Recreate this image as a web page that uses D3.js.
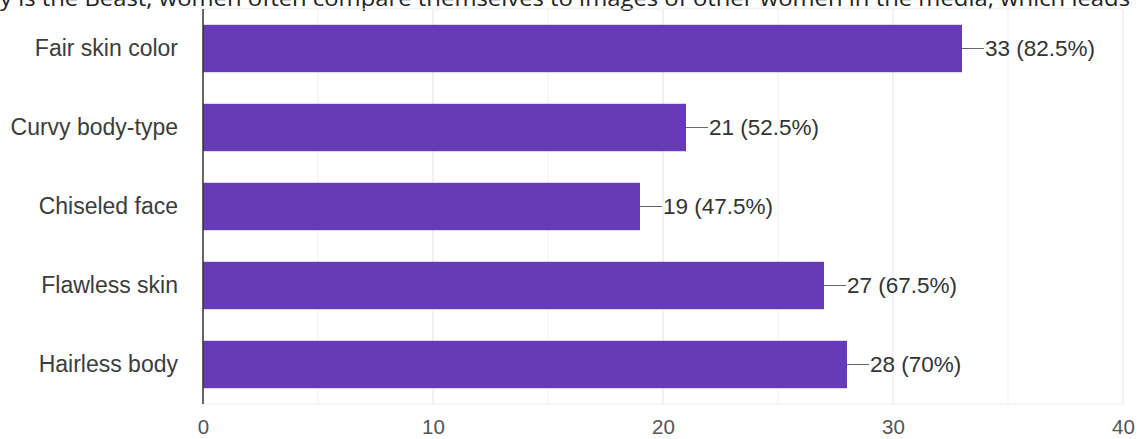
<!DOCTYPE html>
<html>
<head>
<meta charset="utf-8">
<script src="https://cdn.jsdelivr.net/npm/d3@7"></script>
<style>
  body { margin: 0; background: #fff; }
  svg { display: block; }
</style>
</head>
<body>
<div id="container"></div>
<script>
/* DATA */
const categories = ["Fair skin color", "Curvy body-type", "Chiseled face", "Flawless skin", "Hairless body"];
const counts = [33, 21, 19, 27, 28];
const percents = ["82.5%", "52.5%", "47.5%", "67.5%", "70%"];
const xTicks = [0, 10, 20, 30, 40];
const headerText = "y is the Beast, women often compare themselves to images of other women in the media, which leads";

/* CONSTANTS */
const width = 1143, height = 439,
      margin = { top: 9, bottom: 35, left: 203, right: 20 };
const innerW = 920, innerH = height - margin.top - margin.bottom;

const svg = d3.select("#container")
  .append("svg")
  .attr("width", width)
  .attr("height", height);

// cut-off question text at the very top of the screenshot
svg.append("text")
  .attr("x", 0)
  .attr("y", 6)
  .attr("font-family", "Open Sans, Noto Sans, sans-serif")
  .attr("font-size", 22)
  .attr("fill", "#222")
  .attr("textLength", 1130)
  .attr("lengthAdjust", "spacingAndGlyphs")
  .text(headerText);

const g = svg.append("g")
  .attr("transform", `translate(${margin.left}, ${margin.top})`);

// scales
const xScale = d3.scaleLinear()
  .domain([0, 40])
  .range([0, innerW]);

const yScale = d3.scaleBand()
  .domain(categories)
  .range([0, innerH])
  .paddingInner(0.4)
  .paddingOuter(0.2);

// minor gridlines (every 5)
g.selectAll(".minor")
  .data(d3.range(5, 40, 10))
  .join("line")
  .attr("class", "minor")
  .attr("x1", d => xScale(d))
  .attr("x2", d => xScale(d))
  .attr("y1", 0)
  .attr("y2", innerH)
  .attr("stroke", "#f1f1f1")
  .attr("stroke-width", 1);

// major gridlines
g.selectAll(".major")
  .data(xTicks.slice(1))
  .join("line")
  .attr("class", "major")
  .attr("x1", d => xScale(d))
  .attr("x2", d => xScale(d))
  .attr("y1", 0)
  .attr("y2", innerH)
  .attr("stroke", "#e4e4e4")
  .attr("stroke-width", 1);

// top and bottom frame lines
g.selectAll(".hline")
  .data([0, innerH])
  .join("line")
  .attr("class", "hline")
  .attr("x1", 0)
  .attr("x2", xScale(40))
  .attr("y1", d => d)
  .attr("y2", d => d)
  .attr("stroke", "#ececec");

// bars
g.selectAll(".bar")
  .data(counts)
  .join("rect")
  .attr("class", "bar")
  .attr("x", 0)
  .attr("y", (d, i) => yScale(categories[i]))
  .attr("width", d => xScale(d))
  .attr("height", yScale.bandwidth())
  .attr("fill", "#673ab7");

// leader lines
g.selectAll(".leader")
  .data(counts)
  .join("line")
  .attr("class", "leader")
  .attr("x1", d => xScale(d))
  .attr("x2", d => xScale(d) + 22)
  .attr("y1", (d, i) => yScale(categories[i]) + yScale.bandwidth() / 2)
  .attr("y2", (d, i) => yScale(categories[i]) + yScale.bandwidth() / 2)
  .attr("stroke", "#666")
  .attr("stroke-width", 1);

// value labels
g.selectAll(".value")
  .data(counts)
  .join("text")
  .attr("class", "value")
  .attr("x", d => xScale(d) + 23)
  .attr("y", (d, i) => yScale(categories[i]) + yScale.bandwidth() / 2)
  .attr("dy", "0.35em")
  .attr("font-family", "Liberation Sans, Arial, sans-serif")
  .attr("font-size", 22.5)
  .attr("fill", "#333")
  .text((d, i) => `${d} (${percents[i]})`);

// y axis (category labels)
const yAxis = d3.axisLeft(yScale).tickSize(0).tickPadding(25);
g.append("g")
  .call(yAxis)
  .call(s => s.select(".domain").remove())
  .selectAll("text")
  .attr("font-family", "Liberation Sans, Arial, sans-serif")
  .attr("font-size", 23)
  .attr("fill", "#3c3c3c");

// x axis tick labels
const xAxis = d3.axisBottom(xScale).tickValues(xTicks).tickSize(0).tickPadding(15);
g.append("g")
  .attr("transform", `translate(0, ${innerH})`)
  .call(xAxis)
  .call(s => s.select(".domain").remove())
  .selectAll("text")
  .attr("font-family", "Liberation Sans, Arial, sans-serif")
  .attr("font-size", 20.5)
  .attr("fill", "#555");

// baseline at zero
g.append("line")
  .attr("x1", 0)
  .attr("x2", 0)
  .attr("y1", 0)
  .attr("y2", innerH)
  .attr("stroke", "#333")
  .attr("stroke-width", 1.5);
</script>
</body>
</html>
